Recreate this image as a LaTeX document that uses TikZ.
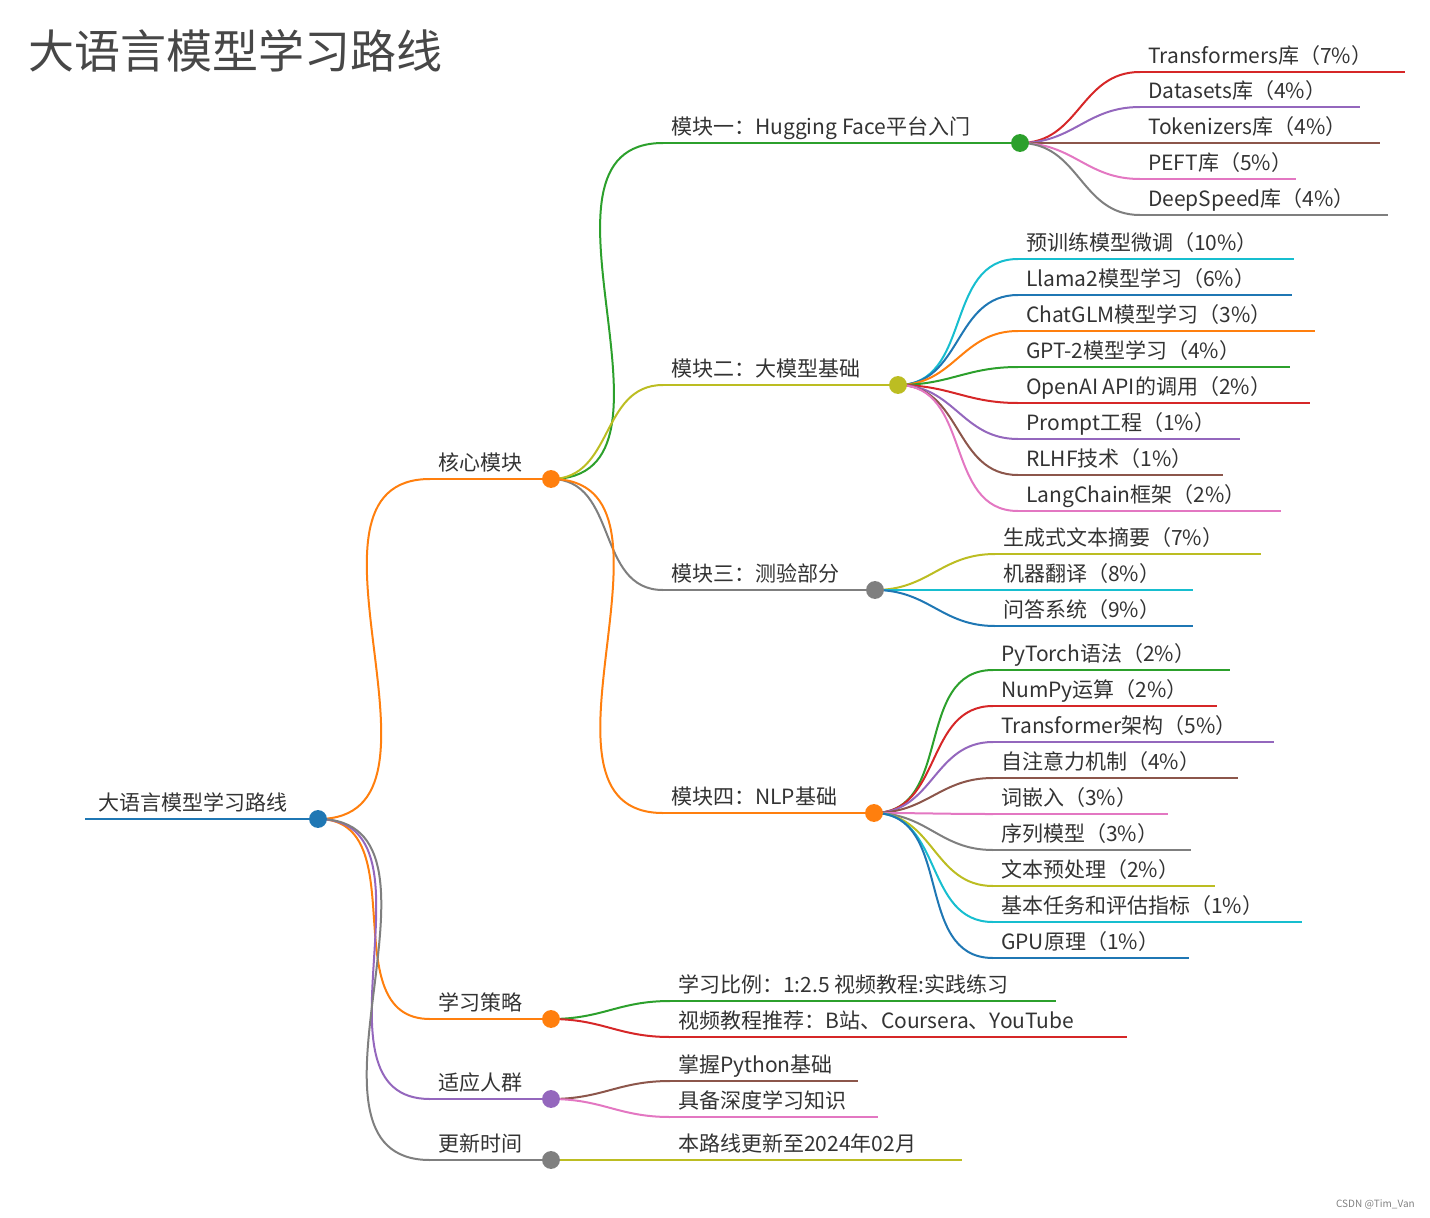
\documentclass[tikz,border=0pt]{standalone}
\usepackage{fontspec}
\setmainfont{Noto Sans CJK SC}
\definecolor{cR}{HTML}{D62728}\definecolor{cP}{HTML}{9467BD}\definecolor{cBr}{HTML}{8C564B}
\definecolor{cPk}{HTML}{E377C2}\definecolor{cG}{HTML}{7F7F7F}\definecolor{cY}{HTML}{BCBD22}
\definecolor{cC}{HTML}{17BECF}\definecolor{cB}{HTML}{1F77B4}\definecolor{cO}{HTML}{FF7F0E}
\definecolor{cGr}{HTML}{2CA02C}\definecolor{txtc}{HTML}{333333}
\tikzset{ln/.style={line width=2pt},
 txt/.style={font=\fontsize{21}{24}\selectfont,text=txtc,inner sep=0pt,anchor=base west},
 dot/.style={circle,draw,fill=white,line width=1.8pt,minimum size=16pt,inner sep=0pt}}
% name, color, x1, x2, y, text, parent
\newcommand\mmb[7]{%
 \coordinate (#1s) at (#3,#5);
 \draw[#2,ln] (#7) to[out=0,in=180,looseness=1.1] (#1s);
 \draw[#2,ln] (#1s) -- (#4,#5);
 \node[txt] (#1t) at (#3+8,#5-9) {#6};}
\begin{document}
\begin{tikzpicture}[x=1pt,y=-1pt]
\useasboundingbox (0,0) rectangle (1430,1218);
\node[font=\fontsize{46}{50}\selectfont,text=txtc!90,anchor=base west,inner sep=0pt] (title) at (28,68) {大语言模型学习路线};
\node[font=\fontsize{10}{12}\selectfont,text=gray,anchor=base east,inner sep=0pt] (credit) at (1415,1207) {CSDN @Tim\_Van};
% root
\coordinate (Rs) at (85,819); \coordinate (R) at (318,819);
\draw[cB,ln] (Rs) -- (R);
\node[txt] (Rt) at (98,810) {大语言模型学习路线};
% level 1
\coordinate (K) at (551,479); \coordinate (S) at (551,1019);
\coordinate (A) at (551,1099); \coordinate (U) at (551,1160);
\mmb{k}{cO}{430}{551}{479}{核心模块}{R}
\mmb{s}{cO}{430}{551}{1019}{学习策略}{R}
\mmb{a}{cP}{430}{551}{1099}{适应人群}{R}
\mmb{u}{cG}{430}{551}{1160}{更新时间}{R}
% level 2
\coordinate (M1) at (1020,143); \coordinate (M2) at (898,385);
\coordinate (M3) at (875,590); \coordinate (M4) at (874,813);
\mmb{m1}{cGr}{663}{1020}{143}{模块一：Hugging Face平台入门}{K}
\mmb{m2}{cY}{663}{898}{385}{模块二：大模型基础}{K}
\mmb{m3}{cG}{663}{875}{590}{模块三：测验部分}{K}
\mmb{m4}{cO}{663}{874}{813}{模块四：NLP基础}{K}
% module 1 leaves
\mmb{a1}{cR}{1140}{1405}{72}{Transformers库（7\%）}{M1}
\mmb{a2}{cP}{1140}{1360}{107}{Datasets库（4\%）}{M1}
\mmb{a3}{cBr}{1140}{1380}{143}{Tokenizers库（4\%）}{M1}
\mmb{a4}{cPk}{1140}{1296}{179}{PEFT库（5\%）}{M1}
\mmb{a5}{cG}{1140}{1388}{215}{DeepSpeed库（4\%）}{M1}
% module 2 leaves
\mmb{b1}{cC}{1018}{1294}{259}{预训练模型微调（10\%）}{M2}
\mmb{b2}{cB}{1018}{1292}{295}{Llama2模型学习（6\%）}{M2}
\mmb{b3}{cO}{1018}{1315}{331}{ChatGLM模型学习（3\%）}{M2}
\mmb{b4}{cGr}{1018}{1290}{367}{GPT-2模型学习（4\%）}{M2}
\mmb{b5}{cR}{1018}{1310}{403}{OpenAI API的调用（2\%）}{M2}
\mmb{b6}{cP}{1018}{1240}{439}{Prompt工程（1\%）}{M2}
\mmb{b7}{cBr}{1018}{1223}{475}{RLHF技术（1\%）}{M2}
\mmb{b8}{cPk}{1018}{1281}{511}{LangChain框架（2\%）}{M2}
% module 3 leaves
\mmb{c1}{cY}{995}{1261}{554}{生成式文本摘要（7\%）}{M3}
\mmb{c2}{cC}{995}{1193}{590}{机器翻译（8\%）}{M3}
\mmb{c3}{cB}{995}{1193}{626}{问答系统（9\%）}{M3}
% module 4 leaves
\mmb{d1}{cGr}{993}{1230}{670}{PyTorch语法（2\%）}{M4}
\mmb{d2}{cR}{993}{1217}{706}{NumPy运算（2\%）}{M4}
\mmb{d3}{cP}{993}{1274}{742}{Transformer架构（5\%）}{M4}
\mmb{d4}{cBr}{993}{1238}{778}{自注意力机制（4\%）}{M4}
\mmb{d5}{cPk}{993}{1168}{814}{词嵌入（3\%）}{M4}
\mmb{d6}{cG}{993}{1191}{850}{序列模型（3\%）}{M4}
\mmb{d7}{cY}{993}{1215}{886}{文本预处理（2\%）}{M4}
\mmb{d8}{cC}{993}{1302}{922}{基本任务和评估指标（1\%）}{M4}
\mmb{d9}{cB}{993}{1189}{958}{GPU原理（1\%）}{M4}
% strategy
\mmb{e1}{cGr}{670}{1056}{1001}{学习比例：1:2.5 视频教程:实践练习}{S}
\mmb{e2}{cR}{670}{1127}{1037}{视频教程推荐：B站、Coursera、YouTube}{S}
\mmb{f1}{cBr}{670}{858}{1081}{掌握Python基础}{A}
\mmb{f2}{cPk}{670}{878}{1117}{具备深度学习知识}{A}
\mmb{g1}{cY}{670}{962}{1160}{本路线更新至2024年02月}{U}
% circles
\node[dot,cB] (Rc) at (R) {};
\node[dot,cO] (Kc) at (K) {};
\node[dot,cO] (Sc) at (S) {};
\node[dot,cP] (Ac) at (A) {};
\node[dot,cG] (Uc) at (U) {};
\node[dot,cGr] (M1c) at (M1) {};
\node[dot,cY] (M2c) at (M2) {};
\node[dot,cG] (M3c) at (M3) {};
\node[dot,cO] (M4c) at (M4) {};
\end{tikzpicture}
\end{document}
